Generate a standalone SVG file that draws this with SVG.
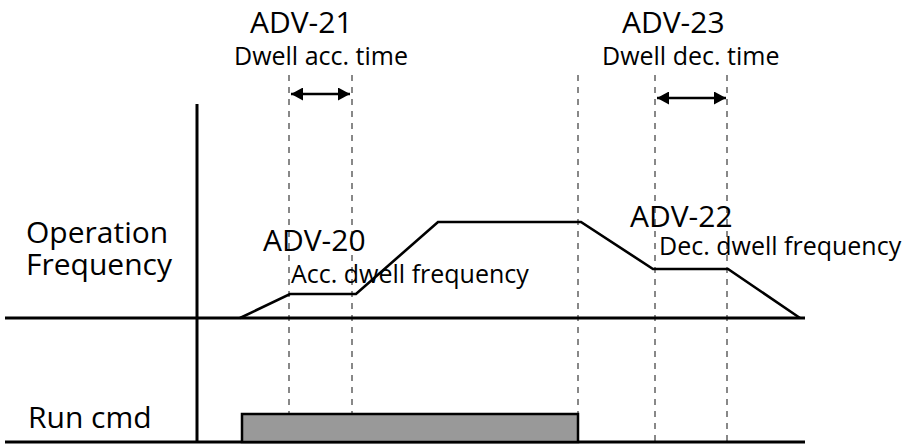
<svg xmlns="http://www.w3.org/2000/svg" width="905" height="444" viewBox="0 0 905 444">
<defs>
<style>
.t{font-family:"Open Sans","Noto Sans","Liberation Sans",sans-serif;fill:#000}
.big{font-size:30px}
.sm{font-size:25px}
.ln{stroke:#000;stroke-width:3;fill:none}
.pr{stroke:#000;stroke-width:2.6;fill:none;stroke-linejoin:miter}
.da{stroke:#888;stroke-width:2;stroke-dasharray:6 6;fill:none}
.ar{stroke:#000;stroke-width:2.5;fill:none}
</style>
<marker id="ah" viewBox="0 0 12 13" refX="12" refY="6.5" markerWidth="12" markerHeight="13" markerUnits="userSpaceOnUse" orient="auto-start-reverse">
<path d="M0,0 L12,6.5 L0,13 Z" fill="#000"/>
</marker>
</defs>
<rect width="905" height="444" fill="#fff"/>
<g id="connectors">
<line class="da" x1="289" y1="75" x2="289" y2="414"/>
<line class="da" x1="352" y1="75" x2="352" y2="414"/>
<line class="da" x1="578" y1="75" x2="578" y2="414"/>
<line class="da" x1="655" y1="75" x2="655" y2="442"/>
<line class="da" x1="727" y1="75" x2="727" y2="442"/>
<line class="ln" x1="197" y1="104" x2="197" y2="442"/>
<line class="ln" x1="5" y1="318" x2="805" y2="318"/>
<line class="ln" x1="5" y1="442" x2="805" y2="442"/>
<polyline class="pr" points="240,318 290,294 356,294 438,222 581,222 653,269 728,269 800,318"/>
<line class="ar" x1="291" y1="94" x2="350" y2="94" marker-start="url(#ah)" marker-end="url(#ah)"/>
<line class="ar" x1="657" y1="98" x2="726" y2="98" marker-start="url(#ah)" marker-end="url(#ah)"/>
</g>
<g id="run-box">
<rect x="242" y="414" width="336" height="28" fill="#999" stroke="#000" stroke-width="2.5"/>
</g>
<g id="labels">
<text class="t big" x="250" y="33">ADV-21</text>
<text class="t sm" x="234" y="65">Dwell acc. time</text>
<text class="t big" x="622" y="33">ADV-23</text>
<text class="t sm" x="602" y="65">Dwell dec. time</text>
<text class="t big" x="26" y="243">Operation</text>
<text class="t big" x="26" y="275">Frequency</text>
<text class="t big" x="263" y="251">ADV-20</text>
<text class="t sm" x="291" y="283">Acc. dwell frequency</text>
<text class="t big" x="630" y="227">ADV-22</text>
<text class="t sm" x="659" y="255">Dec. dwell frequency</text>
<text class="t big" x="28" y="428">Run cmd</text>
</g>
</svg>
